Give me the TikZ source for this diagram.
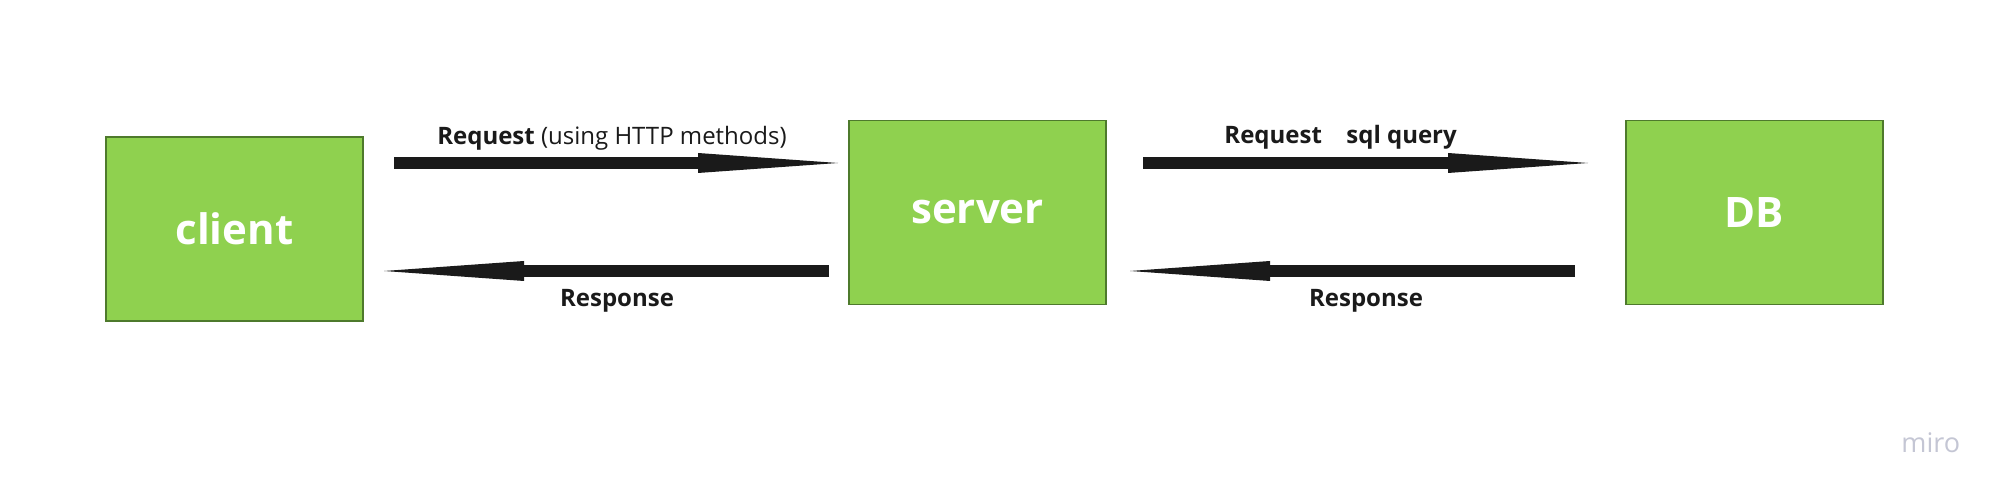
\documentclass[tikz,border=0pt]{standalone}
\usepackage{fontspec}
\setmainfont{Open Sans}
\usetikzlibrary{arrows.meta}
\definecolor{boxgreen}{HTML}{8FD14F}
\definecolor{boxedge}{HTML}{4E7A2C}
\definecolor{ink}{HTML}{1A1A1A}
\definecolor{mirogray}{HTML}{C4C6D4}
\begin{document}
\begin{tikzpicture}[x=0.5pt,y=-0.5pt,
  box/.style={draw=boxedge, line width=0.6pt, fill=boxgreen, minimum width=128.5pt, minimum height=92pt, inner sep=0pt, text=white, font=\fontsize{21}{25}\selectfont\bfseries},
  flow/.style={draw=ink, line width=6pt, -{Triangle[length=70pt,width=10pt,line width=0pt]}},
  lbl/.style={text=ink, font=\fontsize{12}{14}\selectfont, inner sep=0pt, anchor=base}]
\useasboundingbox[fill=white] (0,0) rectangle (2012,496);
% boxes
\node[box] (client) at (234.5,229) {client};
\node[box] (server) at (977.5,212.5) {server};
\node[box] (db) at (1754.5,212.5) {DB};
% arrow end points
\coordinate (r1s) at (394,163);
\coordinate (r1e) at (838,163);
\coordinate (p1s) at (829,271);
\coordinate (p1e) at (384,271);
\coordinate (r2s) at (1143,163);
\coordinate (r2e) at (1588,163);
\coordinate (p2s) at (1575,271);
\coordinate (p2e) at (1130,271);
% connectors
\draw[flow] (r1s) -- (r1e);
\draw[flow] (p1s) -- (p1e);
\draw[flow] (r2s) -- (r2e);
\draw[flow] (p2s) -- (p2e);
% labels
\node[lbl] (lreq1) at (612,145) {\textbf{Request} (using HTTP methods)};
\node[lbl] (lres1) at (617,307) {\textbf{Response}};
\node[lbl, anchor=base west] (lreq2) at (1224,144) {\textbf{Request}};
\node[lbl, anchor=base west] (lsql) at (1346,144) {\textbf{sql query}};
\node[lbl] (lres2) at (1366,307) {\textbf{Response}};
% watermark
\node[anchor=base west, inner sep=0pt, text=mirogray, font=\fontsize{13.5}{16}\selectfont] (miro) at (1901,452) {miro};
\end{tikzpicture}
\end{document}
